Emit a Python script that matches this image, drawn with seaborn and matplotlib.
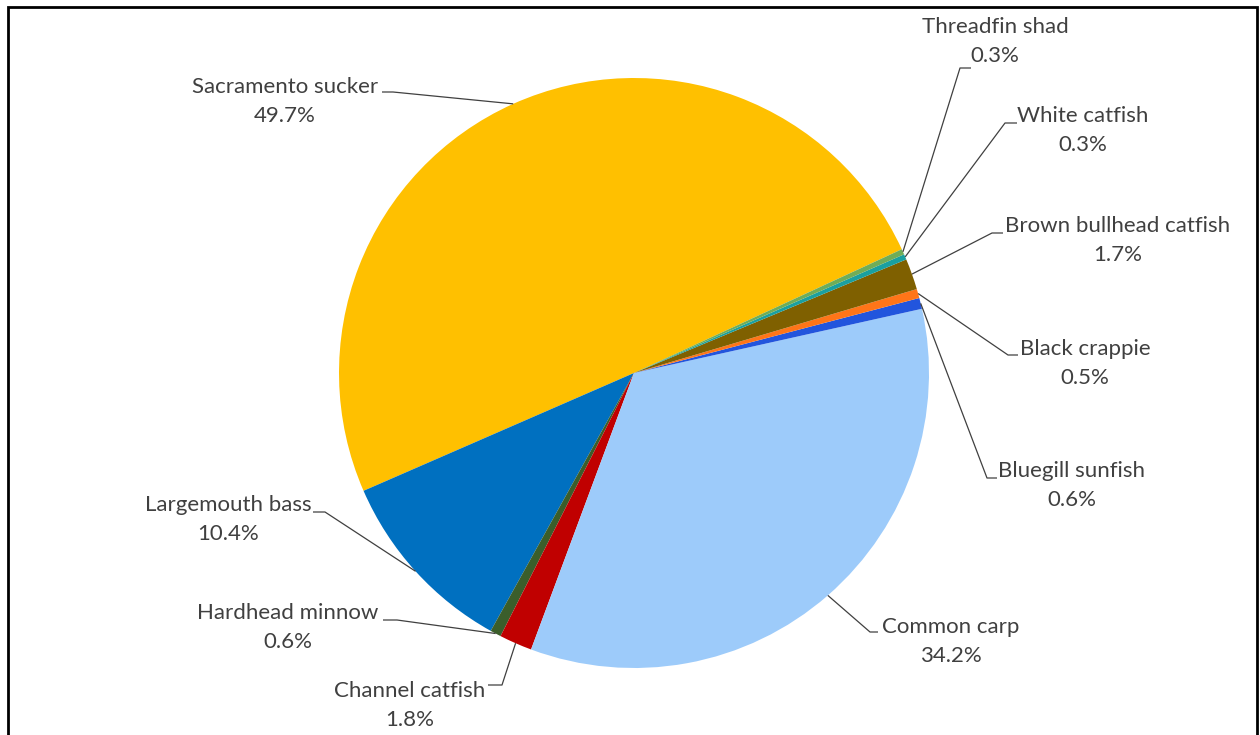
import numpy as np
import matplotlib
matplotlib.use("Agg")
import matplotlib.pyplot as plt
from matplotlib.patches import Rectangle
import seaborn as sns

# ---- data ----
species = ["Sacramento sucker", "Largemouth bass", "Hardhead minnow", "Channel catfish",
           "Common carp", "Bluegill sunfish", "Black crappie", "Brown bullhead catfish",
           "White catfish", "Threadfin shad"]
percents = [49.7, 10.4, 0.6, 1.8, 34.2, 0.6, 0.5, 1.7, 0.3, 0.3]
colors = ["#FFC000", "#0070C0", "#3B5E2B", "#C00000", "#9DCBFA", "#2255DD",
          "#FF7518", "#7F6000", "#1AA0A0", "#70AD57"]

# ---- layout (pixel coords, origin top-left) ----
W, H = 1260, 735
CX, CY, R = 634, 373, 295
START = 24.8
# text center x, first-line center y, elbow x, elbow y, horizontal end x
label_layout = {
    "Sacramento sucker": (285, 87, 393, 92, 382),
    "Largemouth bass": (228, 505, 325, 512, 313),
    "Hardhead minnow": (288, 613, 397, 620, 383),
    "Channel catfish": (410, 691, 502, 685, 488),
    "Common carp": (951, 627, 870, 632, 878),
    "Bluegill sunfish": (1072, 471, 987, 478, 997),
    "Black crappie": (1085, 349, 1008, 355, 1018),
    "Brown bullhead catfish": (1118, 226, 992, 233, 1003),
    "White catfish": (1083, 116, 1005, 123, 1017),
    "Threadfin shad": (995, 27, 960, 68, 971),
}

sns.set_theme(style="white")
plt.rcParams["font.family"] = ["Lato", "DejaVu Sans"]

fig = plt.figure(figsize=(W / 100, H / 100), dpi=100)
fig.patch.set_facecolor("white")
ax = fig.add_axes([0, 0, 1, 1])

def fy(py):
    return H - py

wedges, _ = ax.pie(percents, colors=sns.color_palette(colors), startangle=START,
                   counterclock=True, center=(CX, fy(CY)), radius=R,
                   wedgeprops=dict(linewidth=0))
ax.set_xlim(0, W)
ax.set_ylim(0, H)
ax.set_aspect("equal")
ax.axis("off")

text_color = "#404040"
line_color = "#404040"
for w, name, pct in zip(wedges, species, percents):
    tx, ty, ex, ey, hx = label_layout[name]
    mid = np.deg2rad((w.theta1 + w.theta2) / 2)
    px = w.center[0] + w.r * np.cos(mid)
    py = w.center[1] + w.r * np.sin(mid)
    ax.plot([px, ex, hx], [py, fy(ey), fy(ey)], color=line_color, lw=0.9,
            solid_capstyle="butt", zorder=3)
    ax.text(tx, fy(ty), name, ha="center", va="center", fontsize=16, color=text_color)
    ax.text(tx, fy(ty + 29), f"{pct:.1f}%", ha="center", va="center", fontsize=16,
            color=text_color)

border = Rectangle((8, fy(760)), 1249, 753, fill=False, edgecolor="black", lw=2,
                   transform=ax.transData, clip_on=False)
ax.add_patch(border)

fig.savefig("out.png", dpi=100, facecolor="white")
